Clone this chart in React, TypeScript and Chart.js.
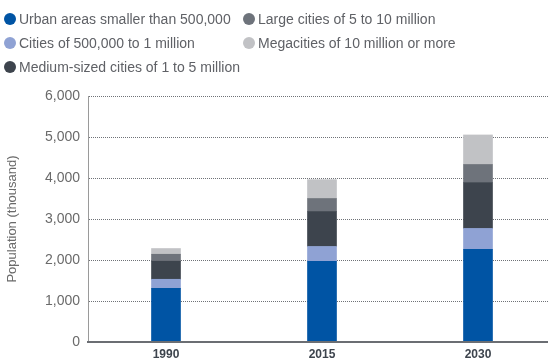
import React, { useEffect, useRef } from "react";
import { Chart, registerables } from "chart.js";

Chart.register(...registerables);

const categories = ["1990", "2015", "2030"];
const seriesNames = [
  "Urban areas smaller than 500,000",
  "Cities of 500,000 to 1 million",
  "Medium-sized cities of 1 to 5 million",
  "Large cities of 5 to 10 million",
  "Megacities of 10 million or more",
];
const urbanSmall = [1310, 1970, 2260];
const cities500k = [220, 360, 510];
const mediumCities = [440, 850, 1120];
const largeCities = [170, 320, 440];
const megacities = [140, 460, 720];
const seriesColors = ["#0054a4", "#8fa2d4", "#3d444d", "#6e737b", "#c1c2c5"];
const yTicks = [0, 1000, 2000, 3000, 4000, 5000, 6000];
const yTitle = "Population (thousand)";

const legendLayout = [
  { idx: 0, left: 4, top: 10 },
  { idx: 3, left: 243, top: 10 },
  { idx: 1, left: 4, top: 34 },
  { idx: 4, left: 243, top: 34 },
  { idx: 2, left: 4, top: 58 },
];

export default function App() {
  const ref = useRef<HTMLCanvasElement | null>(null);
  useEffect(() => {
    if (!ref.current) return;
    const values = [urbanSmall, cities500k, mediumCities, largeCities, megacities];
    const chart = new Chart(ref.current, {
      type: "bar",
      data: {
        labels: categories,
        datasets: values.map((v, i) => ({
          label: seriesNames[i],
          data: v,
          backgroundColor: seriesColors[i],
          borderWidth: 0,
          barThickness: 29,
        })),
      },
      options: {
        animation: false,
        responsive: false,
        maintainAspectRatio: false,
        layout: { padding: { top: 96, right: 0, bottom: 0, left: 0 } },
        plugins: { legend: { display: false }, tooltip: { enabled: false } },
        scales: {
          x: {
            stacked: true,
            grid: { display: false, drawTicks: false },
            border: { display: true, color: "#6b6e73", width: 2, z: 2 },
            ticks: {
              color: "#3d444d",
              font: { family: "Liberation Sans, Arial, sans-serif", size: 12, weight: "bold" },
              padding: 5,
            },
            afterFit: (s: any) => {
              s.height = 21;
            },
          },
          y: {
            stacked: true,
            min: 0,
            max: 6000,
            afterBuildTicks: (s: any) => {
              s.ticks = yTicks.map((v) => ({ value: v }));
            },
            grid: { color: "#6f7277", lineWidth: 1, drawTicks: false },
            border: { display: true, color: "#9a9a9a", width: 1, dash: [1, 1] },
            ticks: {
              color: "#6a6a6a",
              padding: 8,
              font: { family: "Liberation Sans, Arial, sans-serif", size: 14 },
              callback: (v: any) => Number(v).toLocaleString("en-US"),
            },
            title: {
              display: true,
              text: yTitle,
              color: "#6a6a6a",
              font: { family: "Liberation Sans, Arial, sans-serif", size: 13 },
              padding: { top: 5, bottom: 0 },
            },
            afterFit: (s: any) => {
              s.width = 88;
            },
          },
        },
      },
    });
    return () => chart.destroy();
  }, []);

  return (
    <div style={{ position: "fixed", left: 0, top: 0, width: 548, height: 363, background: "#fff", overflow: "hidden" }}>
      <canvas ref={ref} width={556} height={363} style={{ position: "absolute", left: 0, top: 0, width: 556, height: 363 }} />
      {legendLayout.map(({ idx, left, top }) => (
        <div
          key={idx}
          style={{
            position: "absolute",
            left,
            top,
            height: 18,
            display: "flex",
            alignItems: "center",
            whiteSpace: "nowrap",
            fontFamily: "Liberation Sans, Arial, sans-serif",
            fontSize: 14,
            color: "#5f6166",
          }}
        >
          <span
            style={{
              display: "inline-block",
              width: 12,
              height: 12,
              borderRadius: 6,
              background: seriesColors[idx],
              marginRight: 3,
            }}
          />
          {seriesNames[idx]}
        </div>
      ))}
    </div>
  );
}
